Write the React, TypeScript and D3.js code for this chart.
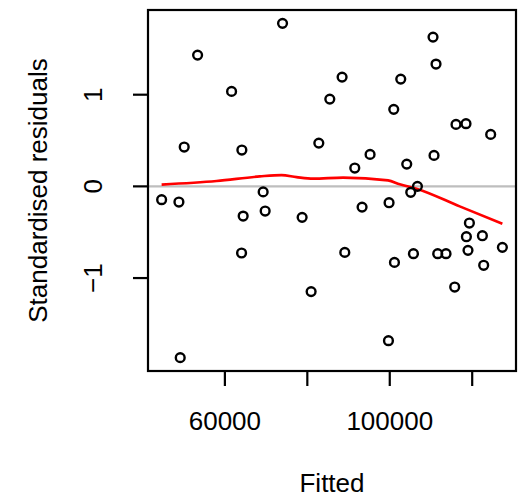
import React from "react";
import * as d3 from "d3";

const fitted = [
  73988, 53382, 61624, 85454, 50133, 64121, 82788, 69285, 110496, 111223,
  88436, 102667, 100969, 116072, 118496, 124484, 95224, 110739, 91515, 104121,
  106715, 44655, 48849, 64436, 69770, 78739, 64048, 80921, 49164, 105090,
  93284, 99830, 119320, 118593, 122472, 89090, 101139, 105745, 111636, 113648,
  118981, 127320, 122787, 115757, 99684,
];
const residuals = [
  1.778, 1.432, 1.036, 0.952, 0.429, 0.396, 0.472, -0.06, 1.628, 1.334,
  1.192, 1.17, 0.84, 0.676, 0.684, 0.567, 0.349, 0.338, 0.2, 0.243,
  0.0, -0.145, -0.171, -0.324, -0.269, -0.338, -0.727, -1.148, -1.868, -0.065,
  -0.226, -0.178, -0.4, -0.549, -0.538, -0.72, -0.829, -0.734, -0.734, -0.734,
  -0.698, -0.665, -0.861, -1.098, -1.683,
];
const smoothX = [44655, 57988, 68485, 73745, 77382, 81406, 88679, 99588, 102424, 106473, 116970, 127320];
const smoothY = [0.019, 0.058, 0.109, 0.123, 0.101, 0.084, 0.095, 0.065, 0.022, -0.025, -0.218, -0.407];
const xTicks = [60000, 80000, 100000, 120000];
const xTickLabels = ["60000", "", "100000", ""];
const yTicks = [-1, 0, 1];
const yTickLabels = ["\u22121", "0", "1"];
const xTitle = "Fitted";
const yTitle = "Standardised residuals";

const W = 522;
const H = 499;
const L = 148, R = 516, T = 10, B = 371;
const FONT = "'Liberation Sans', Arial, Helvetica, sans-serif";
const FS = 26;

function pad(ext: [number, number]): [number, number] {
  const r = ext[1] - ext[0];
  return [ext[0] - 0.04 * r, ext[1] + 0.04 * r];
}

export default function App() {
  const x = d3.scaleLinear().domain(pad(d3.extent(fitted) as [number, number])).range([L, R]);
  const y = d3.scaleLinear().domain(pad(d3.extent(residuals) as [number, number])).range([B, T]);
  const line = d3
    .line<number>()
    .x((_, i) => x(smoothX[i]))
    .y((d) => y(d))
    .curve(d3.curveMonotoneX);
  const tick = 15;
  return (
    <svg width={W} height={H} style={{ position: "absolute", left: 0, top: 0, background: "#fff" }}>
      <defs>
        <clipPath id="plotclip">
          <rect x={L} y={T} width={R - L} height={B - T} />
        </clipPath>
      </defs>
      <line x1={L} x2={R} y1={y(0)} y2={y(0)} stroke="#BEBEBE" strokeWidth={2.4} clipPath="url(#plotclip)" />
      <path d={line(smoothY) || ""} fill="none" stroke="#FF0000" strokeWidth={2.6} />
      {fitted.map((f, i) => (
        <circle key={i} cx={x(f)} cy={y(residuals[i])} r={4.4} fill="none" stroke="#000" strokeWidth={2.4} />
      ))}
      <rect x={L} y={T} width={R - L} height={B - T} fill="none" stroke="#000" strokeWidth={2.2} />
      {xTicks.map((t, i) => (
        <g key={t}>
          <line x1={x(t)} x2={x(t)} y1={B} y2={B + tick} stroke="#000" strokeWidth={2.2} />
          <text x={x(t)} y={430} textAnchor="middle" fontFamily={FONT} fontSize={FS}>
            {xTickLabels[i]}
          </text>
        </g>
      ))}
      {yTicks.map((t, i) => (
        <g key={t}>
          <line x1={L - tick} x2={L} y1={y(t)} y2={y(t)} stroke="#000" strokeWidth={2.2} />
          <text
            transform={`translate(${101.5},${y(t)}) rotate(-90)`}
            textAnchor="middle"
            fontFamily={FONT}
            fontSize={FS}
          >
            {yTickLabels[i]}
          </text>
        </g>
      ))}
      <text x={(L + R) / 2} y={491.5} textAnchor="middle" fontFamily={FONT} fontSize={FS}>
        {xTitle}
      </text>
      <text
        transform={`translate(${46.5},${(T + B) / 2}) rotate(-90)`}
        textAnchor="middle"
        fontFamily={FONT}
        fontSize={FS}
      >
        {yTitle}
      </text>
    </svg>
  );
}
